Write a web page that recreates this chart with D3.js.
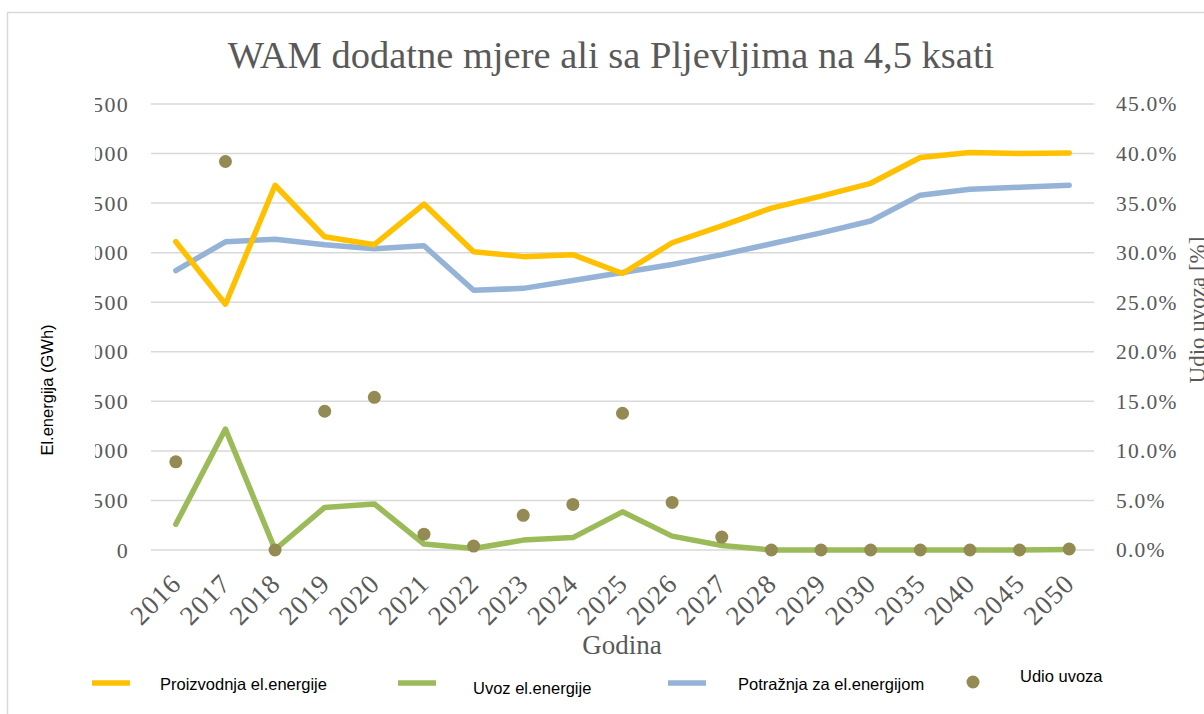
<!DOCTYPE html>
<html>
<head>
<meta charset="utf-8">
<script src="https://cdn.jsdelivr.net/npm/d3@7"></script>
<style>
  body { margin: 0; background: #fff; }
  svg { display: block; }
</style>
</head>
<body>
<div id="chart"></div>
<script>
// chart data
var years = ["2016", "2017", "2018", "2019", "2020", "2021", "2022", "2023", "2024", "2025",
    "2026", "2027", "2028", "2029", "2030", "2035", "2040", "2045", "2050"];
var proizvodnja = [3110, 2480, 3680, 3160, 3080, 3490, 3010, 2960, 2980, 2790,
    3100, 3270, 3450, 3570, 3700, 3960, 4010, 4000, 4005];
var uvoz = [260, 1220, 5, 430, 465, 60, 15, 100, 125, 385,
    140, 45, 0, 0, 0, 0, 0, 0, 5];
var potraznja = [2820, 3110, 3135, 3080, 3040, 3070, 2620, 2640, 2720, 2800,
    2880, 2980, 3090, 3200, 3320, 3580, 3640, 3660, 3680];
var udio = [0.089, 0.392, 0.0, 0.140, 0.154, 0.016, 0.004, 0.035, 0.046, 0.138,
    0.048, 0.013, 0.0, 0.0, 0.0, 0.0, 0.0, 0.0, 0.001];
var leftTicks = [0, 500, 1000, 1500, 2000, 2500, 3000, 3500, 4000, 4500];
var rightTicks = [0, 0.05, 0.10, 0.15, 0.20, 0.25, 0.30, 0.35, 0.40, 0.45];

var svgWidth = 1204;
var svgHeight = 714;

var margin = { top: 104, right: 110, bottom: 164, left: 151 };
var width = svgWidth - margin.left - margin.right;   // 943
var height = svgHeight - margin.top - margin.bottom; // 446

var serif = "'Liberation Serif', 'DejaVu Serif', serif";
var sans = "'Liberation Sans', Arial, sans-serif";
var grey = "#595959";

var svg = d3.select("#chart")
    .append("svg")
    .attr("width", svgWidth)
    .attr("height", svgHeight);

// outer chart frame
svg.append("rect")
    .attr("x", 7.5).attr("y", 12.5)
    .attr("width", 1300).attr("height", 800)
    .attr("fill", "none")
    .attr("stroke", "#d9d9d9")
    .attr("stroke-width", 1.5);

// left labels are cut off in the original
svg.append("defs").append("clipPath")
    .attr("id", "leftClip")
    .append("rect")
    .attr("x", 95).attr("y", 0)
    .attr("width", 200).attr("height", svgHeight);

var chartGroup = svg.append("g")
    .attr("transform", `translate(${margin.left},${margin.top})`);

// scales
var xScale = d3.scaleBand()
    .domain(years)
    .range([0, width]);

var yLeft = d3.scaleLinear()
    .domain([0, 4500])
    .range([height, 0]);

var yRight = d3.scaleLinear()
    .domain([0, 0.45])
    .range([height, 0]);

var xc = d => xScale(d) + xScale.bandwidth() / 2;

// gridlines
chartGroup.append("g")
    .selectAll("line")
    .data(leftTicks)
    .enter()
    .append("line")
    .attr("x1", 0)
    .attr("x2", width)
    .attr("y1", d => yLeft(d))
    .attr("y2", d => yLeft(d))
    .attr("stroke", "#d9d9d9")
    .attr("stroke-width", 1.5);

// left axis
var leftAxis = d3.axisLeft(yLeft)
    .tickValues(leftTicks)
    .tickSize(0)
    .tickPadding(22)
    .tickFormat(d3.format("d"));

var leftG = svg.append("g")
    .attr("clip-path", "url(#leftClip)")
    .append("g")
    .attr("transform", `translate(${margin.left},${margin.top})`)
    .call(leftAxis);
leftG.select(".domain").remove();
leftG.selectAll("text")
    .attr("font-family", serif)
    .attr("font-size", 22)
    .attr("letter-spacing", 1.3)
    .attr("fill", grey);

// right axis
var rightAxis = d3.axisRight(yRight)
    .tickValues(rightTicks)
    .tickSize(0)
    .tickPadding(22)
    .tickFormat(d3.format(".1%"));

var rightG = chartGroup.append("g")
    .attr("transform", `translate(${width},0)`)
    .call(rightAxis);
rightG.select(".domain").remove();
rightG.selectAll("text")
    .attr("font-family", serif)
    .attr("font-size", 21.5)
    .attr("letter-spacing", 1.2)
    .attr("fill", grey);

// bottom axis, rotated year labels
var bottomAxis = d3.axisBottom(xScale)
    .tickSize(0)
    .tickPadding(0);

var bottomG = chartGroup.append("g")
    .attr("transform", `translate(0,${height})`)
    .call(bottomAxis);
bottomG.select(".domain").remove();
bottomG.selectAll("text")
    .attr("font-family", serif)
    .attr("font-size", 27)
    .attr("letter-spacing", 1.2)
    .attr("fill", grey)
    .attr("text-anchor", "end")
    .attr("dy", null)
    .attr("y", null)
    .attr("transform", "translate(7,35) rotate(-45)");

// lines
function drawLine(values, color) {
    var line = d3.line()
        .x((d, i) => xc(years[i]))
        .y(d => yLeft(d));
    chartGroup.append("path")
        .datum(values)
        .attr("d", line)
        .attr("fill", "none")
        .attr("stroke", color)
        .attr("stroke-width", 5.5)
        .attr("stroke-linejoin", "round")
        .attr("stroke-linecap", "round");
}
drawLine(potraznja, "#95b3d7");
drawLine(proizvodnja, "#ffc000");
drawLine(uvoz, "#9bbb59");

// udio uvoza points
chartGroup.selectAll("circle.udio")
    .data(udio)
    .enter()
    .append("circle")
    .attr("class", "udio")
    .attr("cx", (d, i) => xc(years[i]))
    .attr("cy", d => yRight(d))
    .attr("r", 6.5)
    .attr("fill", "#948a54");

// title
svg.append("text")
    .attr("x", 611)
    .attr("y", 68)
    .attr("text-anchor", "middle")
    .attr("font-family", serif)
    .attr("font-size", 38.5)
    .attr("fill", grey)
    .text("WAM dodatne mjere ali sa Pljevljima na 4,5 ksati");

// axis titles
svg.append("text")
    .attr("transform", "translate(53,390) rotate(-90)")
    .attr("text-anchor", "middle")
    .attr("font-family", sans)
    .attr("font-size", 16.5)
    .attr("fill", "#000")
    .text("El.energija (GWh)");

svg.append("text")
    .attr("transform", "translate(1205,310) rotate(-90)")
    .attr("text-anchor", "middle")
    .attr("font-family", serif)
    .attr("font-size", 23)
    .attr("fill", grey)
    .text("Udio uvoza [%]");

svg.append("text")
    .attr("x", 622)
    .attr("y", 654)
    .attr("text-anchor", "middle")
    .attr("font-family", serif)
    .attr("font-size", 27)
    .attr("fill", grey)
    .text("Godina");

// legend
var legendItems = [
    { name: "Proizvodnja el.energije", color: "#ffc000", x: 92, tx: 160, ty: 690, type: "line" },
    { name: "Uvoz el.energije", color: "#9bbb59", x: 398, tx: 473, ty: 694, type: "line" },
    { name: "Potražnja za el.energijom", color: "#95b3d7", x: 668, tx: 738, ty: 690, type: "line" },
    { name: "Udio uvoza", color: "#948a54", x: 973, tx: 1020, ty: 682, type: "dot" }
];

var legend = svg.append("g");
legendItems.forEach(function(item) {
    if (item.type === "line") {
        legend.append("line")
            .attr("x1", item.x).attr("x2", item.x + 38)
            .attr("y1", 683).attr("y2", 683)
            .attr("stroke", item.color)
            .attr("stroke-width", 5.5);
    } else {
        legend.append("circle")
            .attr("cx", item.x).attr("cy", 682)
            .attr("r", 6.5)
            .attr("fill", item.color);
    }
    legend.append("text")
        .attr("x", item.tx)
        .attr("y", item.ty)
        .attr("font-family", sans)
        .attr("font-size", 16.5)
        .attr("fill", "#000")
        .text(item.name);
});
</script>
</body>
</html>
